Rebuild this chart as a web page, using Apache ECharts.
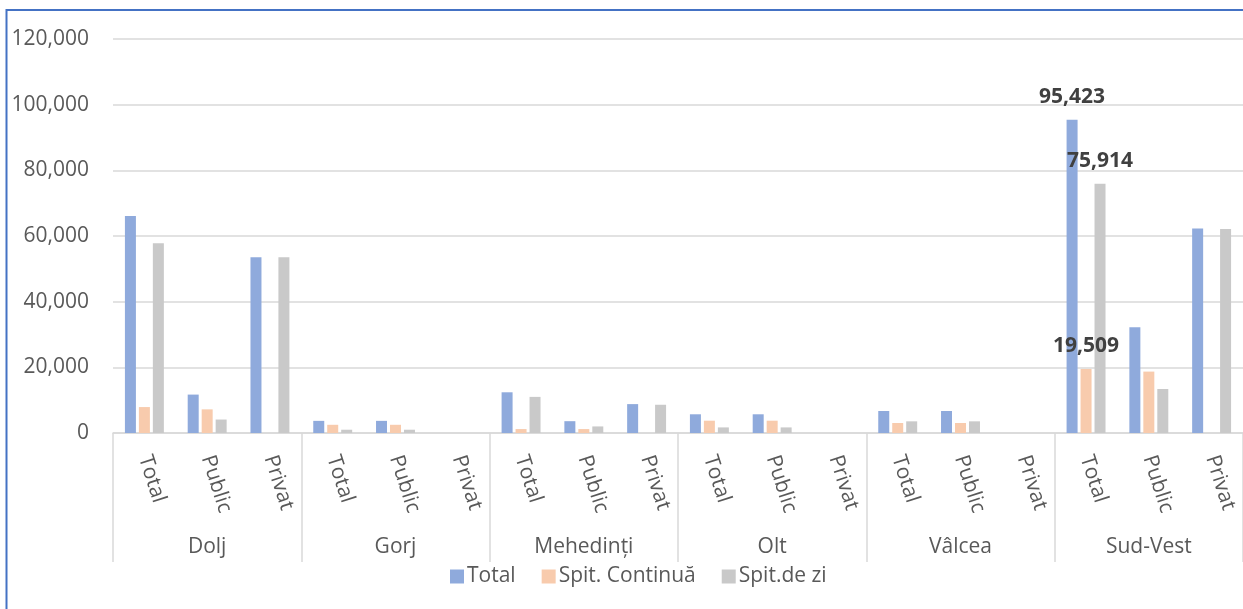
<!DOCTYPE html>
<html>
<head>
<meta charset="utf-8">
<script src="https://cdn.jsdelivr.net/npm/echarts@6/dist/echarts.min.js"></script>
<style>
html,body{margin:0;padding:0;background:#fff;}
#chart{width:1243px;height:609px;}
</style>
</head>
<body>
<div id="chart"></div>
<script>
const groups = ['Dolj','Gorj','Mehedinți','Olt','Vâlcea','Sud-Vest'];
const subCats = ['Total','Public','Privat','Total','Public','Privat','Total','Public','Privat','Total','Public','Privat','Total','Public','Privat','Total','Public','Privat'];
const seriesNames = ['Total','Spit. Continuă','Spit.de zi'];
const totalVals = [66100, 11700, 53500, 3700, 3700, 0, 12400, 3600, 8800, 5700, 5700, 0, 6700, 6700, 0, 95423, 32200, 62300];
const contVals  = [7900, 7200, 0, 2500, 2500, 0, 1200, 1200, 0, 3750, 3750, 0, 3050, 3050, 0, 19509, 18700, 0];
const ziVals    = [57800, 4100, 53500, 1000, 1000, 0, 11000, 2000, 8600, 1700, 1700, 0, 3550, 3550, 0, 75914, 13400, 62100];
const yTicks = [0, 20000, 40000, 60000, 80000, 100000, 120000];
const labelledIndex = 15;

const FONT = '"Open Sans", "Noto Sans", sans-serif';
const colors = ['#8faadc', '#f8cbad', '#c9c9c9'];

function mk(vals) {
  return vals.map((v, i) => i === labelledIndex ? {value: v, label: {show: true}} : v);
}

const chart = echarts.init(document.getElementById('chart'));
const valueLabel = {
  show: false,
  position: 'top',
  distance: 12,
  fontFamily: FONT,
  fontSize: 21,
  fontWeight: 'bold',
  color: '#404040',
  formatter: p => p.value.toLocaleString('en-US')
};
chart.setOption({
  animation: false,
  color: colors,
  textStyle: {fontFamily: FONT},
  graphic: [{
    type: 'rect',
    shape: {x: 6.5, y: 10, width: 1300, height: 700},
    style: {fill: 'none', stroke: '#4472c4', lineWidth: 2},
    silent: true, z: 100
  }],
  legend: {
    data: seriesNames,
    left: 445,
    top: 561,
    itemWidth: 14,
    itemHeight: 14,
    itemGap: 26,
    icon: 'rect',
    textStyle: {fontFamily: FONT, fontSize: 21, color: '#595959', padding: [0,0,0,-2]}
  },
  grid: {left: 113, right: 0, top: 39, bottom: 176, containLabel: false},
  xAxis: [{
    type: 'category',
    data: subCats,
    position: 'bottom',
    axisLine: {show: true, lineStyle: {color: '#d9d9d9', width: 1.5}},
    axisTick: {show: false},
    axisLabel: {
      interval: 0, rotate: -72, margin: 23,
      fontFamily: FONT, fontSize: 21, color: '#595959'
    },
    splitLine: {show: false}
  }, {
    type: 'category',
    data: groups,
    position: 'bottom',
    axisLine: {show: false},
    axisTick: {show: true, length: 129, inside: false, lineStyle: {color: '#d9d9d9', width: 1.5}},
    axisLabel: {
      interval: 0, margin: 104,
      fontFamily: FONT, fontSize: 21, color: '#595959'
    },
    splitLine: {show: false}
  }],
  yAxis: {
    type: 'value',
    min: yTicks[0],
    max: yTicks[yTicks.length - 1],
    interval: yTicks[1] - yTicks[0],
    axisLine: {show: false},
    axisTick: {show: false},
    axisLabel: {
      margin: 24, fontFamily: FONT, fontSize: 21, color: '#595959',
      formatter: v => v.toLocaleString('en-US')
    },
    splitLine: {lineStyle: {color: '#d9d9d9', width: 1.5}}
  },
  series: [
    {name: seriesNames[0], type: 'bar', xAxisIndex: 0, data: mk(totalVals), barWidth: 11, barGap: '27%', label: valueLabel},
    {name: seriesNames[1], type: 'bar', xAxisIndex: 0, data: mk(contVals), barWidth: 11, barGap: '27%', label: valueLabel},
    {name: seriesNames[2], type: 'bar', xAxisIndex: 0, data: mk(ziVals), barWidth: 11, barGap: '27%', label: valueLabel}
  ]
});
</script>
</body>
</html>
